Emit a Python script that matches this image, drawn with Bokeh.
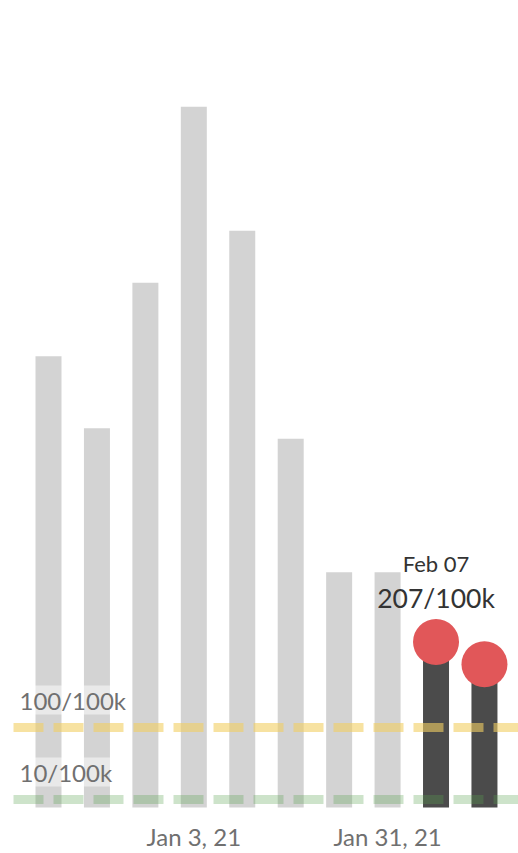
import pandas as pd
from bokeh.plotting import figure
from bokeh.models import Label, FixedTicker, DatetimeTickFormatter, Range1d, ColumnDataSource
from bokeh.embed import file_html
from bokeh.resources import INLINE

# ---- data ----
week_dates = ["2020-12-13", "2020-12-20", "2020-12-27", "2021-01-03", "2021-01-10",
              "2021-01-17", "2021-01-24", "2021-01-31", "2021-02-07", "2021-02-14"]
cases_per_100k = [564, 474, 656, 876, 721, 461, 294, 294, 207, 179]
highlight = [False, False, False, False, False, False, False, False, True, True]
ref_values = [100, 10]
ref_labels = ["100/100k", "10/100k"]
tick_dates = ["2021-01-03", "2021-01-31"]
callout_date = "2021-02-07"
callout_title = "Feb 07"

dates = pd.to_datetime(week_dates)
DAY = 24 * 3600 * 1000
px_per_week = 48.44
frame_w, frame_h = 518, 809
x_start = dates[0] - pd.Timedelta(days=48 / px_per_week * 7)
x_end = x_start + pd.Timedelta(days=frame_w / px_per_week * 7)
y_per_px = 1 / 0.8
y_start = -2 * y_per_px
y_end = y_start + frame_h * y_per_px

p = figure(x_axis_type="datetime", frame_width=frame_w, frame_height=frame_h,
           output_backend="svg", toolbar_location=None,
           x_range=Range1d(x_start, x_end), y_range=Range1d(y_start, y_end),
           min_border=0, outline_line_color=None)
p.grid.visible = False
p.yaxis.visible = False

bar_w = 26 / px_per_week * 7 * DAY
grey = ColumnDataSource(dict(x=[d for d, h in zip(dates, highlight) if not h],
                             top=[v for v, h in zip(cases_per_100k, highlight) if not h]))
dark = ColumnDataSource(dict(x=[d for d, h in zip(dates, highlight) if h],
                             top=[v for v, h in zip(cases_per_100k, highlight) if h]))
p.vbar(x="x", top="top", bottom=0, width=bar_w, source=grey, fill_color="#d3d3d3", line_color=None)
p.vbar(x="x", top="top", bottom=0, width=bar_w, source=dark, fill_color="#4b4b4b", line_color=None)

# reference lines (start a little inside the pane, like the original)
line_x0 = x_start + pd.Timedelta(days=13 / px_per_week * 7)
ref_colors = ["#f1ce63", "#59a14f"]
ref_alphas = [0.6, 0.3]
for val, col, a in zip(ref_values, ref_colors, ref_alphas):
    p.segment(x0=[line_x0], y0=[val], x1=[x_end], y1=[val], line_color=col, line_alpha=a,
              line_width=9, line_dash="30 10", line_cap="butt")

p.scatter(x="x", y="top", source=dark, size=46, fill_color="#e15759", line_color=None)

for val, lab in zip(ref_values, ref_labels):
    p.add_layout(Label(x=19, x_units="screen", y=val, text=lab, y_offset=13,
                       text_font="Lato", text_font_size="24px", text_color="#707070",
                       text_baseline="bottom",
                       background_fill_color="white", background_fill_alpha=0.5))

ci = week_dates.index(callout_date)
cx = dates[ci]
cv = cases_per_100k[ci]
p.add_layout(Label(x=cx, y=cv, text=f"{cv}/100k", y_offset=44, text_align="center",
                   text_baseline="middle", text_font="Lato", text_font_size="26.5px",
                   text_color="#333333"))
p.add_layout(Label(x=cx, y=cv, text=callout_title, y_offset=78, text_align="center",
                   text_baseline="middle", text_font="Lato", text_font_size="22px",
                   text_color="#333333"))

ax = p.xaxis[0]
ax.ticker = FixedTicker(ticks=[pd.Timestamp(t).value // 10**6 for t in tick_dates])
ax.formatter = DatetimeTickFormatter(days="%b %-d, %y", months="%b %-d, %y")
ax.axis_line_color = None
ax.major_tick_line_color = None
ax.minor_tick_line_color = None
ax.major_tick_out = 0
ax.major_tick_in = 0
ax.major_label_standoff = 12
ax.major_label_text_font = "Lato"
ax.major_label_text_font_size = "24px"
ax.major_label_text_color = "#707070"

open("out.html", "w").write(file_html(p, INLINE))
